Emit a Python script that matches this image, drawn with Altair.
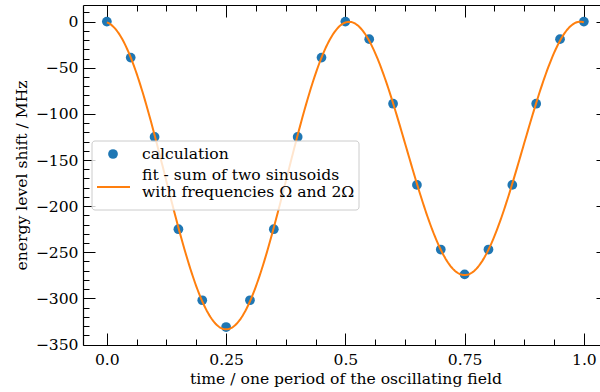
import altair as alt
import numpy as np
import pandas as pd

# calculated level shift over one period of the driving field
t_calc = [0.0, 0.05, 0.1, 0.15, 0.2, 0.25, 0.3, 0.35, 0.4, 0.45, 0.5,
          0.55, 0.6, 0.65, 0.7, 0.75, 0.8, 0.85, 0.9, 0.95, 1.0]
shift_calc = [0, -39, -125, -225, -302, -331, -302, -225, -125, -39, 0,
              -19, -89, -177, -247, -274, -247, -177, -89, -19, 0]

x_major = [0.0, 0.25, 0.5, 0.75, 1.0]
x_tick_labels = ["0.0", "0.25", "0.5", "0.75", "1.0"]
x_minor = [0.0625, 0.125, 0.1875, 0.3125, 0.375, 0.4375, 0.5625, 0.625,
           0.6875, 0.8125, 0.875, 0.9375]
y_major = [0, -50, -100, -150, -200, -250, -300, -350]
y_minor = [v for v in range(-340, 20, 10) if v % 50 != 0]

x_title = "time / one period of the oscillating field"
y_title = "energy level shift / MHz"
legend_labels = ["calculation", "fit - sum of two sinusoids",
                 "with frequencies Ω and 2Ω"]

# least-squares fit: constant plus harmonics at Ω and 2Ω
tc = np.array(t_calc)
yc = np.array(shift_calc, dtype=float)


def basis(t):
    w = 2 * np.pi * t
    return np.column_stack([np.ones_like(t), np.cos(w), np.sin(w),
                            np.cos(2 * w), np.sin(2 * w)])


coef, *_ = np.linalg.lstsq(basis(tc), yc, rcond=None)
t_fit = np.linspace(0.0, 1.0, 401)
shift_fit = basis(t_fit) @ coef

calc_df = pd.DataFrame({"t": t_calc, "shift": shift_calc})
fit_df = pd.DataFrame({"t": t_fit, "shift": shift_fit})
one_row = pd.DataFrame({"k": [0]})

FONT = "DejaVu Serif"
FS = 15.6
BLUE = "#1f77b4"
ORANGE = "#ff7f0e"

x_scale = alt.Scale(domain=[-0.05, 1.0338], nice=False, zero=False)
y_scale = alt.Scale(domain=[-350.5, 18.0], nice=False, zero=False)

label_expr = " : ".join(
    f"datum.value == {v} ? '{s}'" for v, s in zip(x_major, x_tick_labels)
) + " : ''"


def tick_axis(orient, values, size):
    # inward-pointing ticks: shift the axis into the frame by its tick length
    return alt.Axis(orient=orient, values=values, offset=-size, tickSize=size,
                    tickWidth=1, tickColor="black", domain=False,
                    labels=False, title=None, grid=False)


def frame_axis(orient):
    return alt.Axis(orient=orient, domain=True, domainColor="black",
                    domainWidth=1.2, ticks=False, tickSize=0, labels=False,
                    title=None, grid=False)


x_main = alt.Axis(
    orient="bottom", values=x_major, labelExpr=label_expr,
    domain=True, domainColor="black", domainWidth=1.2,
    ticks=False, tickSize=0, grid=False, title=None,
    labelPadding=7, labelFont=FONT, labelFontSize=FS, labelColor="black",
)
y_main = alt.Axis(
    orient="left", values=y_major, format="d",
    domain=True, domainColor="black", domainWidth=1.2,
    ticks=False, tickSize=0, grid=False,
    labelPadding=5, labelFont=FONT, labelFontSize=FS, labelColor="black",
    title=y_title,
    titleFont=FONT, titleFontSize=FS, titleFontWeight=400,
    titleColor="black", titlePadding=6,
)

points = alt.Chart(calc_df).mark_circle(size=95, color=BLUE, opacity=1).encode(
    x=alt.X("t:Q", scale=x_scale, axis=x_main),
    y=alt.Y("shift:Q", scale=y_scale, axis=y_main),
)

fit_line = alt.Chart(fit_df).mark_line(color=ORANGE, strokeWidth=2).encode(
    x=alt.X("t:Q", scale=x_scale, axis=tick_axis("bottom", x_major, 12)),
    y=alt.Y("shift:Q", scale=y_scale, axis=tick_axis("left", y_major, 12)),
)

ghost = alt.Chart(calc_df).mark_point(opacity=0)

minor_bl = ghost.encode(
    x=alt.X("t:Q", scale=x_scale, axis=tick_axis("bottom", x_minor, 6)),
    y=alt.Y("shift:Q", scale=y_scale, axis=tick_axis("left", y_minor, 6)),
)
top_frame = ghost.encode(
    x=alt.X("t:Q", scale=x_scale, axis=frame_axis("top")),
    y=alt.Y("shift:Q", scale=y_scale, axis=tick_axis("right", y_major, 4)),
)
top_major = ghost.encode(
    x=alt.X("t:Q", scale=x_scale, axis=tick_axis("top", x_major, 12)),
    y=alt.Y("shift:Q", scale=y_scale, axis=None),
)
top_minor = ghost.encode(
    x=alt.X("t:Q", scale=x_scale, axis=tick_axis("top", x_minor, 6)),
    y=alt.Y("shift:Q", scale=y_scale, axis=None),
)

# x-axis title, centred under the full frame
x_title_mark = alt.Chart(one_row).mark_text(
    align="center", baseline="alphabetic", font=FONT, fontSize=FS,
    color="black",
).encode(x=alt.value(263), y=alt.value(379), text=alt.value(x_title))

# legend drawn inside the frame
leg_box = alt.Chart(one_row).mark_rect(
    fill="white", fillOpacity=0.8, stroke="#cccccc", strokeWidth=1,
    cornerRadius=3,
).encode(x=alt.value(9), x2=alt.value(276), y=alt.value(136), y2=alt.value(205))
leg_dot = alt.Chart(one_row).mark_circle(size=95, color=BLUE, opacity=1).encode(
    x=alt.value(30), y=alt.value(149))
leg_line = alt.Chart(one_row).mark_rule(color=ORANGE, strokeWidth=2).encode(
    x=alt.value(14), x2=alt.value(47), y=alt.value(182))
leg_text = [
    alt.Chart(one_row).mark_text(
        align="left", baseline="alphabetic", font=FONT, fontSize=FS,
        color="black",
    ).encode(x=alt.value(59), y=alt.value(yy), text=alt.value(label))
    for label, yy in zip(legend_labels, [154, 175, 192])
]

chart = alt.layer(
    points, fit_line, minor_bl, top_frame, top_major, top_minor,
    x_title_mark, leg_box, leg_dot, leg_line, *leg_text,
).resolve_axis(
    x="independent", y="independent"
).properties(
    width=517, height=340,
    autosize=alt.AutoSizeParams(type="none"),
    padding={"left": 83, "top": 5, "right": 0, "bottom": 47},
    background="white",
).configure_view(stroke=None)

chart.save("out.html", embed_options={"renderer": "svg", "actions": False})
